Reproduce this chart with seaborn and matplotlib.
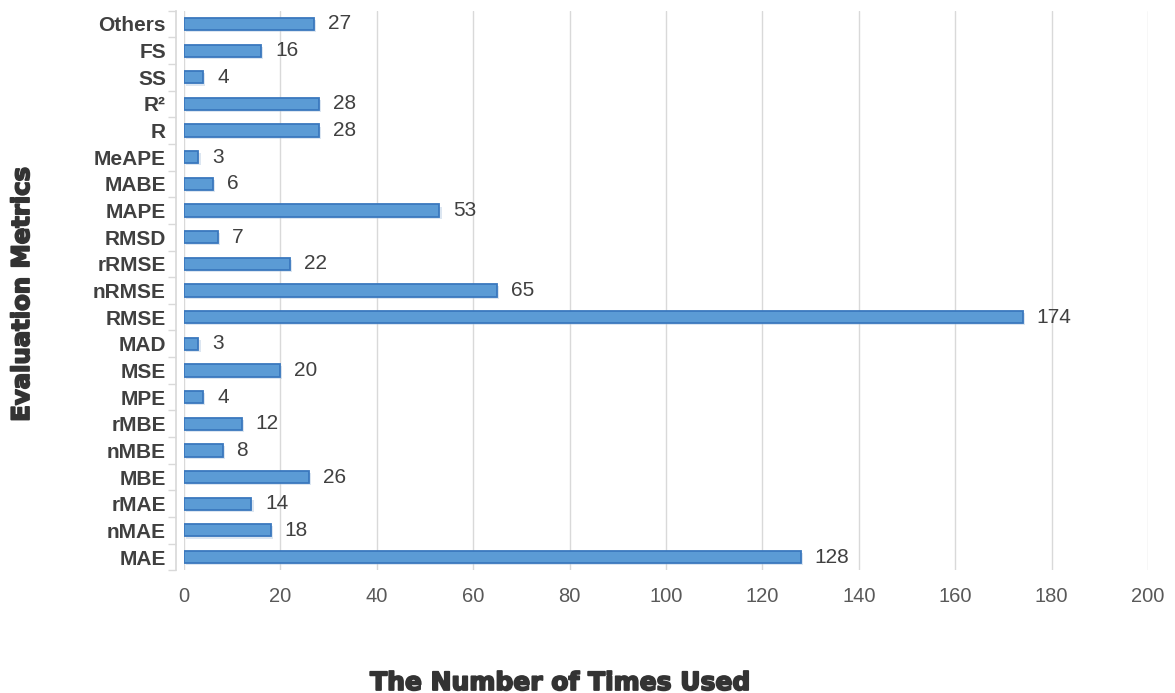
import matplotlib
matplotlib.use("Agg")
import matplotlib.pyplot as plt
import matplotlib.patheffects as pe
from matplotlib.ticker import FixedLocator
import seaborn as sns
import pandas as pd
import numpy as np

metrics = ["Others", "FS", "SS", "R²", "R", "MeAPE", "MABE", "MAPE", "RMSD", "rRMSE",
           "nRMSE", "RMSE", "MAD", "MSE", "MPE", "rMBE", "nMBE", "MBE", "rMAE", "nMAE", "MAE"]
counts = [27, 16, 4, 28, 28, 3, 6, 53, 7, 22, 65, 174, 3, 20, 4, 12, 8, 26, 14, 18, 128]
x_ticks = [0, 20, 40, 60, 80, 100, 120, 140, 160, 180, 200]

df = pd.DataFrame({"metric": metrics, "count": counts})

sns.set_theme(style="white")
plt.rcParams["font.family"] = ["Liberation Sans", "DejaVu Sans"]

fig = plt.figure(figsize=(11.75, 6.93), dpi=100)
ax = fig.add_axes([0.1566, 0.177, 0.8204, 0.8076])

sns.barplot(data=df, x="count", y="metric", orient="h", ax=ax,
            color="#5B9BD5", edgecolor="#3A78BE", linewidth=1.3, width=0.46,
            saturation=1, zorder=3)

for p in ax.patches:
    p.set_path_effects([pe.SimplePatchShadow(offset=(1.5, -1.5), shadow_rgbFace="#9db8d8", alpha=0.35), pe.Normal()])

for cont in ax.containers:
    ax.bar_label(cont, padding=10, fontsize=15, color="#404040")

ax.set_xlim(0, 200)
ax.set_ylim(len(metrics) - 0.5, -0.5)
ax.set_xticks(x_ticks)
ax.set_xticklabels([str(t) for t in x_ticks])
ax.tick_params(axis="x", length=0, pad=12, labelsize=14.5, labelcolor="#595959")
ax.xaxis.grid(True, color="#d9d9d9", linewidth=1, zorder=0)
ax.yaxis.grid(False)

ax.set_yticks(list(range(len(metrics))), labels=metrics)
ax.yaxis.set_minor_locator(FixedLocator(list(np.arange(-0.5, len(metrics), 1))))
ax.tick_params(axis="y", which="major", length=0, pad=7, labelsize=15, labelcolor="#404040")
ax.tick_params(axis="y", which="minor", length=6, color="#d9d9d9", width=1, left=True)

for s in ["top", "right", "bottom"]:
    ax.spines[s].set_visible(False)
ax.spines["left"].set_color("#d9d9d9")
ax.spines["left"].set_position(("outward", 6))

ax.set_xlabel("")
ax.set_ylabel("")
heavy = [pe.withStroke(linewidth=1.3, foreground="#333333")]
fig.text(0.477, 1 - 683 / 693, "The Number of Times Used", ha="center", va="center",
         fontsize=18, fontweight="bold", color="#333333", family=["DejaVu Sans"],
         path_effects=heavy)
fig.text(22 / 1175, 1 - 295 / 693, "Evaluation Metrics", ha="center", va="center", rotation=90,
         fontsize=17.5, fontweight="bold", color="#333333", family=["DejaVu Sans"],
         path_effects=heavy)

fig.canvas.draw()
for lbl in ax.get_yticklabels():
    lbl.set_fontweight("bold")
    lbl.set_fontsize(15)
    lbl.set_color("#404040")

fig.savefig("out.png", dpi=100)
